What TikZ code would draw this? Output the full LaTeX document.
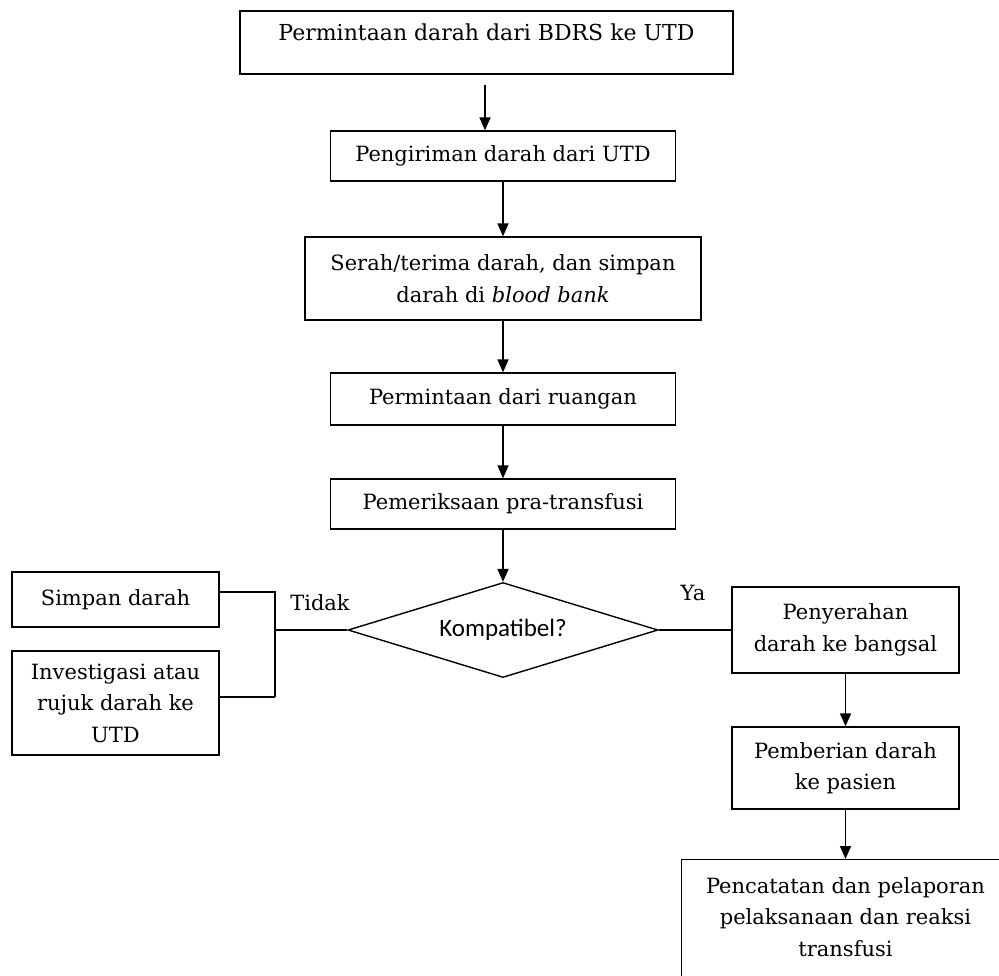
\documentclass[tikz,border=0pt]{standalone}
\usepackage{fontspec}
\setmainfont{DejaVu Serif}
\newfontfamily\kfont{Carlito}
\usetikzlibrary{arrows.meta,shapes.geometric}
\begin{document}
\begin{tikzpicture}[x=1pt,y=-1pt,
  box/.style={draw, line width=1.4pt, rectangle, inner sep=0pt, align=center,
    font=\fontsize{21}{31.5}\selectfont},
  arr/.style={line width=1.8pt, -{Triangle[length=13pt,width=11pt]}},
  ln/.style={line width=1.4pt},
  lbl/.style={inner sep=0pt, font=\fontsize{21}{31.5}\selectfont}]
\useasboundingbox (0,0) rectangle (999,975);
\clip (0,0) rectangle (999,975);
\fill[white] (0,0) rectangle (999,975);
% main column
\node[box, minimum width=493pt, minimum height=63pt, text depth=20pt,
  font=\fontsize{22}{28}\selectfont] (b1) at (486.5,42.5) {Permintaan darah dari BDRS ke UTD};
\node[box, minimum width=345pt, minimum height=50pt] (b2) at (503,156) {Pengiriman darah dari UTD};
\node[box, minimum width=396pt, minimum height=83pt] (b3) at (503,278.5) {Serah/terima darah, dan simpan\\darah di \textit{blood bank}};
\node[box, minimum width=345pt, minimum height=52pt] (b4) at (503,399) {Permintaan dari ruangan};
\node[box, minimum width=345pt, minimum height=50pt] (b5) at (503,504) {Pemeriksaan pra-transfusi};
\node[draw, diamond, line width=1.4pt, inner sep=0pt, aspect=3.26,
  minimum width=310pt, minimum height=95pt, font=\kfont\fontsize{25}{28}\selectfont] (dia) at (503,630) {Kompatibel?};
% left
\node[box, minimum width=207pt, minimum height=55pt] (s1) at (115.5,599.5) {Simpan darah};
\node[box, minimum width=207pt, minimum height=104pt] (s2) at (115.5,703) {Investigasi atau\\rujuk darah ke\\UTD};
% right
\node[box, minimum width=227pt, minimum height=86pt] (r1) at (845.5,630) {Penyerahan\\darah ke bangsal};
\node[box, minimum width=227pt, minimum height=82pt] (r2) at (845.5,768) {Pemberian darah\\ke pasien};
\node[box, minimum width=328pt, minimum height=150pt, anchor=north] (r3) at (845.5,859) {};
\node[lbl, align=center, anchor=center] (r3t) at (845.5,917) {Pencatatan dan pelaporan\\pelaksanaan dan reaksi\\transfusi};
% labels
\node[lbl] (tidak) at (320,603) {Tidak};
\node[lbl] (ya) at (693,593) {Ya};
% arrows
\coordinate (a1s) at (485,85);
\draw[arr] (a1s) -- (a1s |- b2.north);
\draw[arr] (b2.south) -- (b3.north);
\draw[arr] (b3.south) -- (b4.north);
\draw[arr] (b4.south) -- (b5.north);
\draw[arr] (b5.south) -- (dia.north);
\draw[arr] (r1.south) -- (r2.north);
\draw[arr] (r2.south) -- (r3.north);
% connectors
\coordinate (j) at (275,630);
\coordinate (jt) at (275,592);
\coordinate (jb) at (275,697);
\draw[ln] (dia.west) -- (j);
\draw[ln] (s1.east |- jt) -- (jt) -- (jb);
\draw[line width=2.2pt] (jb) -- (s2.east |- jb);
\draw[ln] (dia.east) -- (r1.west);
\end{tikzpicture}
\end{document}
